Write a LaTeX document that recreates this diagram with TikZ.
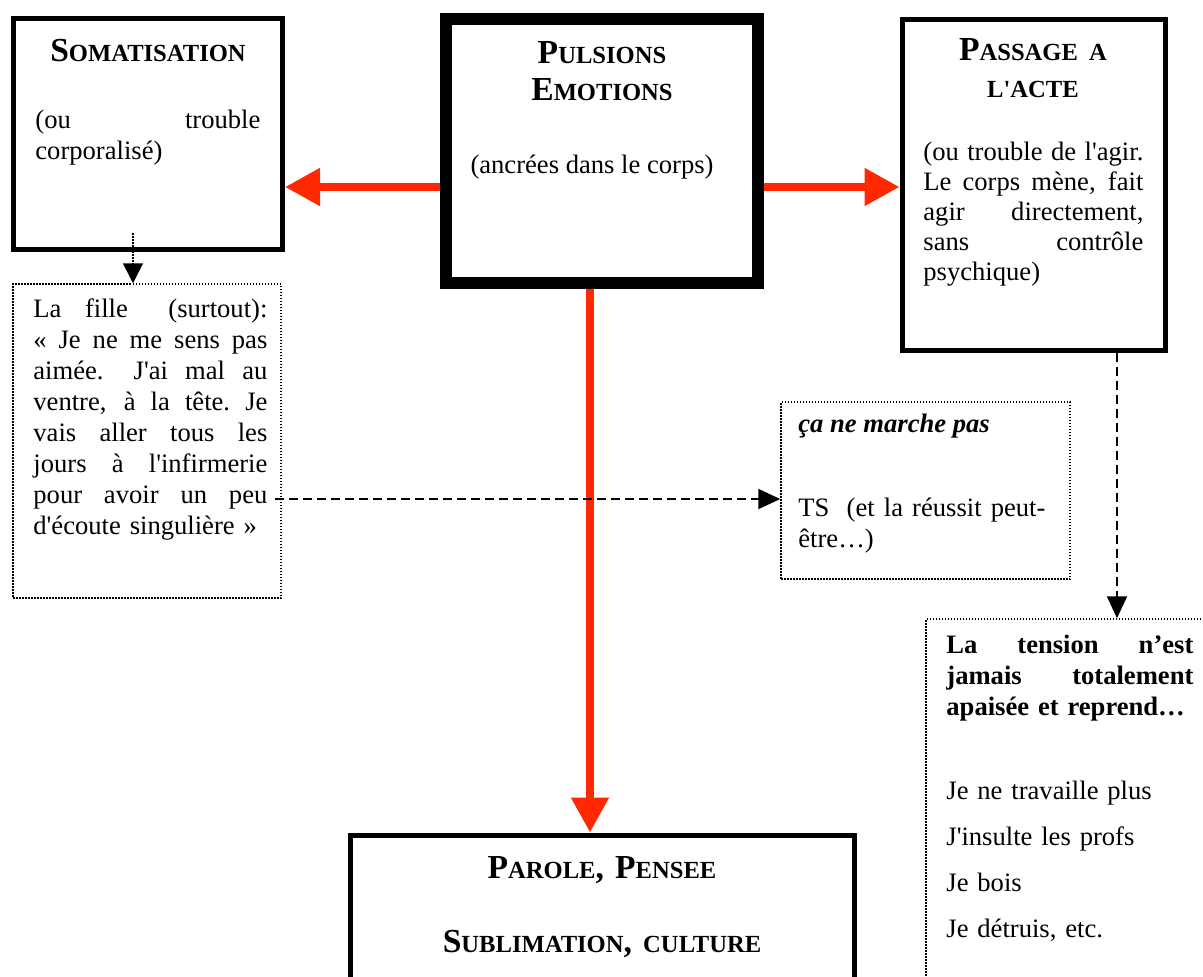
\documentclass[tikz,border=0pt]{standalone}
\usepackage{fontspec}
\setmainfont{Liberation Serif}[Ligatures=TeXOff]
\usepackage{tikz}
\usetikzlibrary{arrows.meta}

\definecolor{arrowred}{RGB}{255,40,0}
\setlength{\parindent}{0pt}
\newcommand{\bodyfont}{\fontsize{13.3pt}{15.5pt}\selectfont}
\newcommand{\capbig}[1]{{\fontsize{16.8pt}{18.5pt}\selectfont #1}}
\newcommand{\capsmall}[1]{{\fontsize{12.3pt}{18.5pt}\selectfont #1}}
\newcommand{\jl}[1]{\leavevmode\hbox to \hsize{\spaceskip=0.25em plus 1fil\xspaceskip=\spaceskip\relax #1}}
\newcommand{\wide}{\hskip 0.5em plus 1.6fil\relax}

\begin{document}
\begin{tikzpicture}[x=0.5pt, y=-0.5pt,
    main_box/.style={rectangle, draw=black, line width=2.5pt, inner sep=0pt},
    core_box/.style={main_box, line width=6pt},
    note_box/.style={rectangle, draw=black, line width=0.75pt, dash pattern=on 0.75pt off 0.75pt, inner sep=0pt},
    title_text/.style={inner sep=0pt, anchor=base, align=center,
        font=\bfseries\fontsize{16.8pt}{18.5pt}\selectfont},
    body_text/.style={inner sep=0pt, anchor=base west, align=left, font=\bodyfont},
    red_arrow/.style={-{Triangle[length=17.5pt, width=18pt]}, line width=4pt, arrowred},
    dash_arrow/.style={-{Triangle[length=11pt, width=10pt]}, line width=1pt, dash pattern=on 4.5pt off 2.5pt},
    dot_arrow/.style={-{Triangle[length=10pt, width=10pt]}, line width=0.75pt, dash pattern=on 0.75pt off 0.75pt}
    ]
    \path[use as bounding box, clip] (0,0) rectangle (1203,976);

    % Boxes
    \node[main_box, minimum width=134.5pt, minimum height=115.5pt] (soma) at (148, 134) {};
    \node[core_box, minimum width=156pt, minimum height=132pt] (puls) at (601.5, 151) {};
    \node[main_box, minimum width=131.5pt, minimum height=165.25pt] (pass) at (1033.5, 184.75) {};
    \node[main_box, minimum width=252pt, minimum height=90pt] (parole) at (602, 925) {};

    % Dotted notes
    \node[note_box, minimum width=134pt, minimum height=157pt] (fille) at (147, 441) {};
    \node[note_box, minimum width=144.5pt, minimum height=88.5pt] (ts) at (925.5, 490.5) {};
    \node[note_box, minimum width=152pt, minimum height=190.5pt] (tension) at (1078, 809.5) {};

    % Titles
    \node[title_text, text width=130pt] (soma_title) at (148, 61) {\capbig{S}\capsmall{OMATISATION}};
    \node[title_text, text width=150pt] (puls_title) at (602, 63)
        {\capbig{P}\capsmall{ULSIONS}\\\capbig{E}\capsmall{MOTIONS}};
    \node[title_text, text width=125pt] (pass_title) at (1033, 60)
        {\capbig{P}\capsmall{ASSAGE A}\\\capsmall{L'ACTE}};
    \node[title_text, text width=240pt] (parole_title) at (602, 878)
        {\capbig{P}\capsmall{AROLE}, \capbig{P}\capsmall{ENSEE}\\[18.5pt]\capbig{S}\capsmall{UBLIMATION}, \capsmall{CULTURE}};

    % Texts in the boxes
    \node[body_text, text width=112.5pt] (soma_note) at (35, 128) {\jl{(ou trouble}\\corporalisé)};
    \node[body_text, anchor=base] (puls_note) at (592, 173) {(ancrées dans le corps)};
    \node[body_text, text width=110pt, font=\fontsize{13.3pt}{15pt}\selectfont] (pass_note) at (923, 160)
        {\jl{(ou trouble de l'agir.}\\\jl{Le corps mène, fait}\\\jl{agir directement,}\\\jl{sans contrôle}\\psychique)};

    % Texts in the notes
    \node[body_text, text width=117pt] (fille_note) at (33, 317)
        {\jl{La fille\wide(surtout):}\\\jl{« Je ne me sens pas}\\\jl{aimée.\wide J'ai mal au}\\\jl{ventre, à la tête. Je}\\
         \jl{vais aller tous les}\\\jl{jours à l'infirmerie}\\\jl{pour avoir un peu}\\d'écoute singulière~»};
    \node[body_text, font=\bodyfont\bfseries\itshape] (ts_title) at (798, 432) {ça ne marche pas};
    \node[body_text, text width=123.5pt] (ts_note) at (798, 516) {\jl{TS\wide(et la réussit peut-}\\être…)};
    \node[body_text, text width=123.5pt, font=\bodyfont\bfseries] (tension_title) at (946, 653)
        {\jl{La tension n’est}\\\jl{jamais totalement}\\apaisée et reprend…};
    \node[body_text, text width=123.5pt, font=\fontsize{13.3pt}{23pt}\selectfont] (tension_list) at (946, 799)
        {Je ne travaille plus\\J'insulte les profs\\Je bois\\Je détruis, etc.};

    % Connections
    \coordinate (arrow_row) at (601.5, 187);
    \coordinate (down_col) at (590, 500);
    \draw[red_arrow] (puls.west |- arrow_row) -- (soma.east |- arrow_row);
    \draw[red_arrow] (puls.east |- arrow_row) -- (pass.west |- arrow_row);
    \draw[red_arrow] (puls.south -| down_col) -- (parole.north -| down_col);

    \coordinate (soma_tail) at (133, 233);
    \draw[dot_arrow] (soma_tail) -- (soma_tail |- fille.north);

    \coordinate (talk_row) at (275, 499);
    \draw[dash_arrow] (talk_row) -- (ts.west |- talk_row);

    \coordinate (act_col) at (1117, 400);
    \draw[dash_arrow] (pass.south -| act_col) -- (tension.north -| act_col);

\end{tikzpicture}
\end{document}
